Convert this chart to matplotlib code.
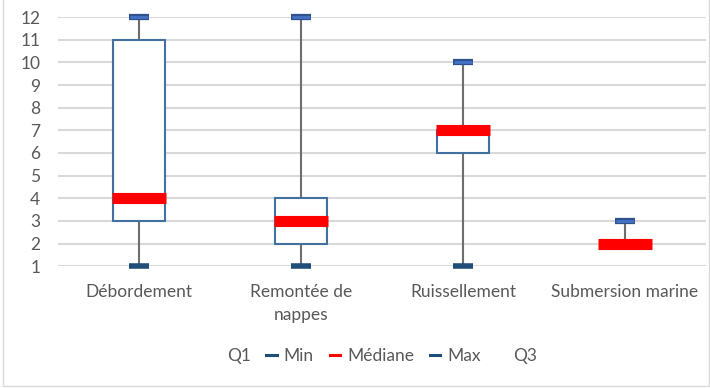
import matplotlib
matplotlib.use("Agg")
import matplotlib.pyplot as plt
from matplotlib.lines import Line2D
from matplotlib.patches import Patch, Rectangle

plt.rcParams['font.family'] = ['Lato', 'DejaVu Sans']

categories = ["Débordement", "Remontée de\nnappes", "Ruissellement", "Submersion marine"]
q1 = [3, 2, 6, 2]
mins = [1, 1, 1, 2]
medians = [4, 3, 7, 2]
maxs = [12, 12, 10, 3]
q3 = [11, 4, 7, 2]
yticks = list(range(1, 13))

fig = plt.figure(figsize=(7.1, 3.88), dpi=100)
ax = fig.add_axes([0.082, 0.314, 0.912, 0.642])

x = list(range(len(categories)))
grid_c = "#D9D9D9"
text_c = "#595959"

for v in yticks:
    ax.axhline(v, color=grid_c, lw=1.5, zorder=0)

# whiskers
ax.vlines(x, mins, q1, color="#6E6E6E", lw=1.5, zorder=1)
ax.vlines(x, q3, maxs, color="#6E6E6E", lw=1.5, zorder=1)

# boxes
heights = [b - a for a, b in zip(q1, q3)]
ax.bar(x, heights, bottom=q1, width=0.32, facecolor="white",
       edgecolor="#41719C", linewidth=1.5, zorder=2)

# caps
ax.plot(x, mins, linestyle="none", marker="_", ms=15, mew=4,
        color="#1F4E79", zorder=3, clip_on=False)
ax.plot(x, maxs, linestyle="none", marker="_", ms=15, mew=4.5,
        color="#2F528F", zorder=3, clip_on=False)
ax.plot(x, maxs, linestyle="none", marker="_", ms=13, mew=2,
        color="#4472C4", zorder=3, clip_on=False)

# medians
ax.plot(x, medians, linestyle="none", marker="_", ms=39, mew=8,
        color="#FF0000", zorder=4, clip_on=False)

ax.set_xlim(-0.5, len(categories) - 0.5)
ax.set_ylim(1, 12)
ax.set_yticks(yticks)
ax.set_xticks(x)
ax.set_xticklabels(categories, linespacing=1.5)
ax.tick_params(axis="both", length=0, labelsize=12.5, labelcolor=text_c)
ax.tick_params(axis="x", pad=13)
ax.tick_params(axis="y", pad=13)
for s in ax.spines.values():
    s.set_visible(False)

handles = [
    Patch(facecolor="none", edgecolor="none"),
    Line2D([0], [0], color="#1F4E79", lw=2.2),
    Line2D([0], [0], color="#FF0000", lw=2.2),
    Line2D([0], [0], color="#1F4E79", lw=2.2),
    Patch(facecolor="none", edgecolor="none"),
]
labels = ["Q1", "Min", "Médiane", "Max", "Q3"]
leg = fig.legend(handles, labels, loc="center", bbox_to_anchor=(0.526, 0.083),
                 ncol=5, frameon=False, fontsize=12.5, handlelength=0.6,
                 handletextpad=0.4, columnspacing=0.9, labelcolor=text_c)

fig.patches.append(Rectangle((0.004, 0.004), 0.995, 1.2, transform=fig.transFigure,
                             fill=False, edgecolor=grid_c, lw=1))

fig.savefig("out.png", dpi=100)
